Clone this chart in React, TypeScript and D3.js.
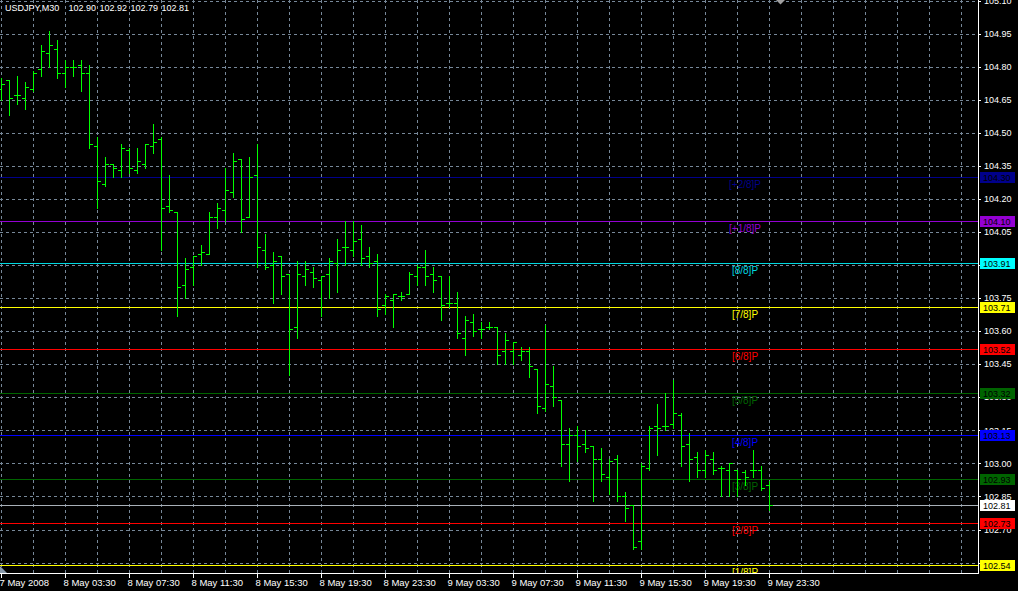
import React from 'react';
import * as d3 from 'd3';

// ---------- DATA ----------
const symbolTitle = 'USDJPY,M30';
const headerValues = ['102.90', '102.92', '102.79', '102.81'];

const opens = [104.70, 104.74, 104.67, 104.66, 104.70, 104.79, 104.86, 104.88, 104.77, 104.80,
  104.81, 104.77, 104.44, 104.27, 104.36, 104.33, 104.42, 104.33, 104.36, 104.44,
  104.47, 104.17, 104.14, 103.81, 103.89, 103.95, 103.95, 104.12, 104.15, 104.23,
  104.38, 104.12, 104.31, 103.97, 103.90, 103.94, 103.86, 103.62, 103.85, 103.87,
  103.83, 103.86, 103.91, 103.98, 103.97, 104.02, 103.94, 103.92, 103.72, 103.74,
  103.76, 103.77, 103.85, 103.89, 103.86, 103.85, 103.73, 103.73, 103.57, 103.64,
  103.61, 103.62, 103.62, 103.51, 103.51, 103.49, 103.51, 103.43, 103.25, 103.35,
  103.29, 103.09, 103.13, 103.09, 103.08, 103.02, 102.94, 103.02, 102.85, 102.81,
  102.65, 102.98, 103.17, 103.17, 103.18, 103.22, 103.09, 103.03, 102.97, 103.02,
  102.98, 102.97, 102.97, 102.96, 102.97, 102.97, 102.90];
const highs = [104.75, 104.74, 104.76, 104.73, 104.78, 104.90, 104.96, 104.92, 104.83, 104.83,
  104.83, 104.81, 104.48, 104.39, 104.36, 104.45, 104.43, 104.43, 104.45, 104.54,
  104.48, 104.31, 104.14, 103.93, 103.94, 103.99, 104.14, 104.18, 104.34, 104.41,
  104.38, 104.39, 104.45, 104.04, 103.96, 103.94, 103.86, 103.92, 103.92, 103.89,
  103.85, 103.93, 104.02, 104.10, 104.10, 104.08, 103.98, 103.95, 103.77, 103.77,
  103.78, 103.87, 103.90, 103.97, 103.89, 103.85, 103.85, 103.78, 103.67, 103.68,
  103.64, 103.64, 103.62, 103.59, 103.55, 103.53, 103.53, 103.43, 103.63, 103.44,
  103.29, 103.16, 103.17, 103.15, 103.08, 103.07, 103.02, 103.04, 102.87, 102.81,
  103.00, 103.17, 103.27, 103.32, 103.38, 103.23, 103.14, 103.05, 103.06, 103.05,
  102.99, 103.00, 102.97, 102.97, 103.06, 102.99, 102.92];
const lows = [104.65, 104.58, 104.63, 104.61, 104.69, 104.76, 104.80, 104.75, 104.71, 104.76,
  104.69, 104.43, 104.16, 104.26, 104.30, 104.30, 104.32, 104.32, 104.34, 104.41,
  103.97, 104.14, 103.67, 103.75, 103.81, 103.90, 103.95, 104.07, 104.10, 104.21,
  104.05, 104.12, 103.89, 103.88, 103.73, 103.77, 103.40, 103.57, 103.81, 103.80,
  103.67, 103.75, 103.78, 103.90, 103.94, 103.90, 103.89, 103.67, 103.68, 103.62,
  103.74, 103.77, 103.81, 103.81, 103.78, 103.65, 103.71, 103.57, 103.49, 103.58,
  103.57, 103.61, 103.45, 103.45, 103.45, 103.47, 103.39, 103.23, 103.24, 103.26,
  102.99, 102.92, 103.01, 103.05, 102.83, 102.92, 102.86, 102.83, 102.74, 102.61,
  102.61, 102.97, 103.04, 103.15, 103.16, 102.99, 102.92, 102.94, 102.94, 102.95,
  102.85, 102.85, 102.85, 102.90, 102.94, 102.88, 102.79];
const closes = [104.72, 104.66, 104.67, 104.71, 104.77, 104.87, 104.90, 104.77, 104.80, 104.80,
  104.77, 104.45, 104.28, 104.36, 104.34, 104.43, 104.34, 104.37, 104.45, 104.46,
  104.16, 104.15, 103.80, 103.88, 103.94, 103.96, 104.12, 104.16, 104.24, 104.37,
  104.11, 104.30, 103.98, 103.89, 103.92, 103.85, 103.61, 103.86, 103.88, 103.84,
  103.85, 103.92, 103.97, 103.98, 104.01, 103.93, 103.91, 103.70, 103.76, 103.77,
  103.76, 103.86, 103.89, 103.85, 103.83, 103.72, 103.73, 103.59, 103.65, 103.60,
  103.61, 103.62, 103.49, 103.56, 103.55, 103.51, 103.44, 103.26, 103.36, 103.30,
  103.09, 103.13, 103.08, 103.07, 103.02, 102.95, 103.01, 102.85, 102.80, 102.62,
  102.99, 103.16, 103.16, 103.17, 103.23, 103.08, 103.02, 102.97, 103.04, 102.97,
  102.98, 103.00, 102.93, 102.94, 102.97, 102.89, 102.81];

const timeLabels = ['7 May 2008', '8 May 03:30', '8 May 07:30', '8 May 11:30', '8 May 15:30',
  '8 May 19:30', '8 May 23:30', '9 May 03:30', '9 May 07:30', '9 May 11:30', '9 May 15:30',
  '9 May 19:30', '9 May 23:30'];
const timeLabelBars = [0, 8, 16, 24, 32, 40, 48, 56, 64, 72, 80, 88, 96];

const priceTicks = [105.10, 104.95, 104.80, 104.65, 104.50, 104.35, 104.20, 104.05, 103.90,
  103.75, 103.60, 103.45, 103.30, 103.15, 103.00, 102.85, 102.70, 102.55];

const levelNames = ['[+2/8]P', '[+1/8]P', '[8/8]P', '[7/8]P', '[6/8]P', '[5/8]P', '[4/8]P',
  '[3/8]P', '[2/8]P', '[1/8]P'];
const levelValues = [104.30, 104.10, 103.91, 103.71, 103.52, 103.32, 103.13, 102.93, 102.73, 102.54];
const currentPrice = 102.81;

// ---------- STYLE ----------
const LEVEL_COLORS = ['#00008b', '#9400d3', '#00d8e0', '#ffff00', '#ff0000', '#006400',
  '#0000ff', '#006400', '#ff0000', '#ffff00'];
const LEVEL_BOX_COLORS = ['#00008b', '#9400d3', '#00ffff', '#ffff00', '#ff0000', '#006400',
  '#0000ff', '#006400', '#ff0000', '#ffff00'];
const BAR_COLOR = '#00ff00';
const GRID_COLOR = '#778899';
const FONT = '"Liberation Sans", Arial, sans-serif';

const W = 1018;
const H = 591;
const PLOT_R = 978;
const PLOT_B = 573;

export default function App() {
  const xScale = d3.scaleLinear().domain([0, 96]).range([1, 769]);
  const yScale = d3.scaleLinear().domain([102.55, 105.10]).range([562.6, 0.6]);
  const px = (v: number) => Math.round(v) + 0.5;

  const gridBars = d3.range(0, 121, 4).filter((i) => xScale(i) < PLOT_R - 2);

  return (
    <svg
      width={W}
      height={H}
      style={{ position: 'fixed', left: 0, top: 0, display: 'block' }}
      fontFamily={FONT}
    >
      <defs>
        <clipPath id="plot">
          <rect x={0} y={0} width={PLOT_R} height={PLOT_B} />
        </clipPath>
      </defs>
      <rect x={0} y={0} width={W} height={H} fill="#000" />

      <g clipPath="url(#plot)">
        {/* grid */}
        {priceTicks.map((p) => (
          <line key={'hg' + p} x1={0} x2={PLOT_R} y1={px(yScale(p))} y2={px(yScale(p))}
            stroke={GRID_COLOR} strokeDasharray="3,3" />
        ))}
        {gridBars.map((i) => (
          <line key={'vg' + i} x1={px(xScale(i))} x2={px(xScale(i))} y1={0} y2={PLOT_B}
            stroke={GRID_COLOR} strokeDasharray="3,3" />
        ))}

        {/* level lines */}
        {levelValues.map((v, k) => (
          <line key={'lv' + k} x1={0} x2={PLOT_R} y1={px(yScale(v))} y2={px(yScale(v))}
            stroke={LEVEL_COLORS[k]} />
        ))}
        <line x1={0} x2={PLOT_R} y1={px(yScale(currentPrice))} y2={px(yScale(currentPrice))}
          stroke="#a8b0b8" />

        {/* level texts */}
        {levelValues.map((v, k) => (
          <text key={'lt' + k} x={745} y={Math.round(yScale(v)) + 11} fill={LEVEL_COLORS[k]}
            fontSize={10} textAnchor="middle">{levelNames[k]}</text>
        ))}

        {/* OHLC bars */}
        {opens.map((o, i) => {
          const x = px(xScale(i));
          return (
            <g key={'b' + i} stroke={BAR_COLOR} strokeWidth={1}>
              <line x1={x} x2={x} y1={Math.round(yScale(highs[i]))} y2={Math.round(yScale(lows[i])) + 1} />
              <line x1={x - 3.5} x2={x} y1={px(yScale(o))} y2={px(yScale(o))} />
              <line x1={x} x2={x + 3.5} y1={px(yScale(closes[i]))} y2={px(yScale(closes[i]))} />
            </g>
          );
        })}

        <polygon points="0,566 0,573 7,573" fill="#8899aa" />
        <polygon points="776,0 785,0 780.5,4.5" fill="#a0a0a0" />
      </g>

      {/* axes frame */}
      <line x1={PLOT_R + 0.5} x2={PLOT_R + 0.5} y1={0} y2={PLOT_B + 1} stroke="#fff" />
      <line x1={0} x2={PLOT_R + 1} y1={PLOT_B + 0.5} y2={PLOT_B + 0.5} stroke="#fff" />

      {/* price axis */}
      {priceTicks.map((p) => (
        <g key={'pt' + p}>
          <line x1={PLOT_R} x2={PLOT_R + 3} y1={px(yScale(p))} y2={px(yScale(p))} stroke="#fff" />
          <text x={984} y={yScale(p)} dy="0.35em" fill="#fff" fontSize={9}>{p.toFixed(2)}</text>
        </g>
      ))}

      {/* level boxes */}
      {levelValues.map((v, k) => (
        <g key={'lb' + k}>
          <rect x={980} y={Math.round(yScale(v)) - 5} width={35} height={11} fill={LEVEL_BOX_COLORS[k]} />
          <text x={983} y={Math.round(yScale(v)) + 0.5} dy="0.35em" fill="#000" fontSize={9}>{v.toFixed(2)}</text>
        </g>
      ))}
      <rect x={980} y={Math.round(yScale(currentPrice)) - 5} width={35} height={11} fill="#fff" />
      <text x={983} y={Math.round(yScale(currentPrice)) + 0.5} dy="0.35em" fill="#000" fontSize={9}>
        {currentPrice.toFixed(2)}
      </text>

      {/* time axis */}
      {timeLabelBars.map((b, k) => (
        <g key={'tl' + k}>
          <line x1={px(xScale(b))} x2={px(xScale(b))} y1={PLOT_B} y2={PLOT_B + 5} stroke="#fff" />
          <text x={xScale(b) - 1.5} y={586} fill="#fff" fontSize={9.5}>{timeLabels[k]}</text>
        </g>
      ))}

      {/* header */}
      <text y={10.5} fill="#fff" fontSize={9}>
        <tspan x={5}>{symbolTitle}</tspan>
        {headerValues.map((h, k) => (
          <tspan key={'h' + k} x={68.5 + k * 31}>{h}</tspan>
        ))}
      </text>
    </svg>
  );
}
